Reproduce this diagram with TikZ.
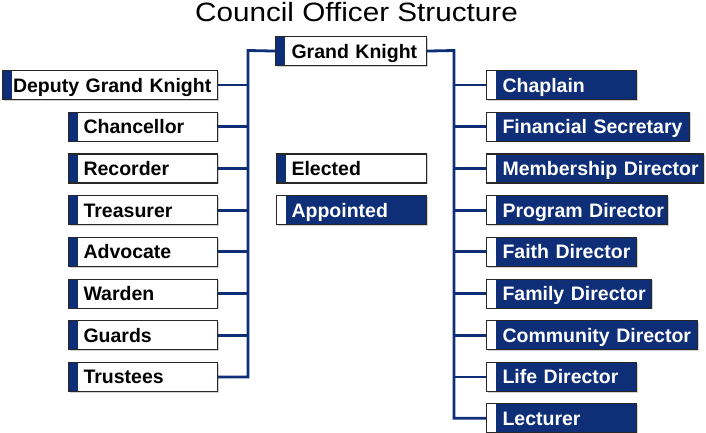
\documentclass[tikz,border=0pt]{standalone}
\usepackage{fontspec}
\setmainfont{Liberation Sans}
\usetikzlibrary{shadows}
\definecolor{navy}{RGB}{14,46,120}
\definecolor{bord}{RGB}{40,40,40}
\newcommand\boxfont{\fontsize{19.5}{20}\selectfont\bfseries}
\tikzset{
  obox/.style={draw=bord, line width=1.1pt, rectangle, anchor=north west,
    minimum height=29pt, inner xsep=0pt, inner ysep=0pt,
    text height=14pt, text depth=0pt, align=left, font=\boxfont,
    drop shadow={shadow xshift=1pt, shadow yshift=-1.2pt, fill=black!30, opacity=0.6}},
  elected/.style={obox, fill=white, text=black,
    path picture={\fill[navy] (path picture bounding box.south west) rectangle ([xshift=9.5pt]path picture bounding box.north west);}},
  appointed/.style={obox, fill=navy, text=white,
    path picture={\fill[white] (path picture bounding box.south west) rectangle ([xshift=9.5pt]path picture bounding box.north west);}},
  conn/.style={draw=navy, line width=2.8pt},
}
\begin{document}
\begin{tikzpicture}[x=1pt,y=-1pt]
\useasboundingbox (0,0) rectangle (706,433);
\node[font=\fontsize{26.5}{28}\selectfont, anchor=base] (title) at (356.5,21.5) {\scalebox{1.12}[1]{Council Officer Structure}};
% connector trunk coordinates
\coordinate (lt) at (248,50.5);
\coordinate (rt) at (454,50.5);
% centre
\node[elected, text width=151pt] (gk) at (275,36) {\hspace*{16pt}Grand Knight};
\node[elected, text width=150pt] (el) at (276,153.4) {\hspace*{15pt}Elected};
\node[appointed, text width=150pt] (ap) at (276,195.1) {\hspace*{15pt}Appointed};
% left column
\node[elected, text width=215pt] (dgk) at (2,70) {\hspace*{10.5pt}Deputy Grand Knight};
\node[elected, text width=149pt] (chan) at (68,111.7) {\hspace*{15pt}Chancellor};
\node[elected, text width=149pt] (rec) at (68,153.4) {\hspace*{15pt}Recorder};
\node[elected, text width=149pt] (treas) at (68,195.1) {\hspace*{15pt}Treasurer};
\node[elected, text width=149pt] (adv) at (68,236.8) {\hspace*{15pt}Advocate};
\node[elected, text width=149pt] (ward) at (68,278.5) {\hspace*{15pt}Warden};
\node[elected, text width=149pt] (guard) at (68,320.2) {\hspace*{15pt}Guards};
\node[elected, text width=149pt] (trus) at (68,361.9) {\hspace*{15pt}Trustees};
% right column
\node[appointed, text width=150pt] (chap) at (486,70) {\hspace*{16pt}Chaplain};
\node[appointed, text width=203pt] (fin) at (486,111.7) {\hspace*{16pt}Financial Secretary};
\node[appointed, text width=217pt] (mem) at (486,153.4) {\hspace*{16pt}Membership Director};
\node[appointed, text width=181pt] (prog) at (486,195.1) {\hspace*{16pt}Program Director};
\node[appointed, text width=150pt] (faith) at (486,236.8) {\hspace*{16pt}Faith Director};
\node[appointed, text width=165pt] (fam) at (486,278.5) {\hspace*{16pt}Family Director};
\node[appointed, text width=211pt] (comm) at (486,320.2) {\hspace*{16pt}Community Director};
\node[appointed, text width=150pt] (life) at (486,361.9) {\hspace*{16pt}Life Director};
\node[appointed, text width=150pt] (lect) at (486,403.2) {\hspace*{16pt}Lecturer};
% connectors
\draw[conn] (gk.west) -- (lt) |- (trus.east);
\foreach \n in {dgk,chan,rec,treas,adv,ward,guard}
  \draw[conn] (\n.east) -- (\n.east -| lt);
\draw[conn] (gk.east) -- (rt) |- (lect.west);
\foreach \n in {chap,fin,mem,prog,faith,fam,comm,life}
  \draw[conn] (\n.west) -- (\n.west -| rt);
\end{tikzpicture}
\end{document}
